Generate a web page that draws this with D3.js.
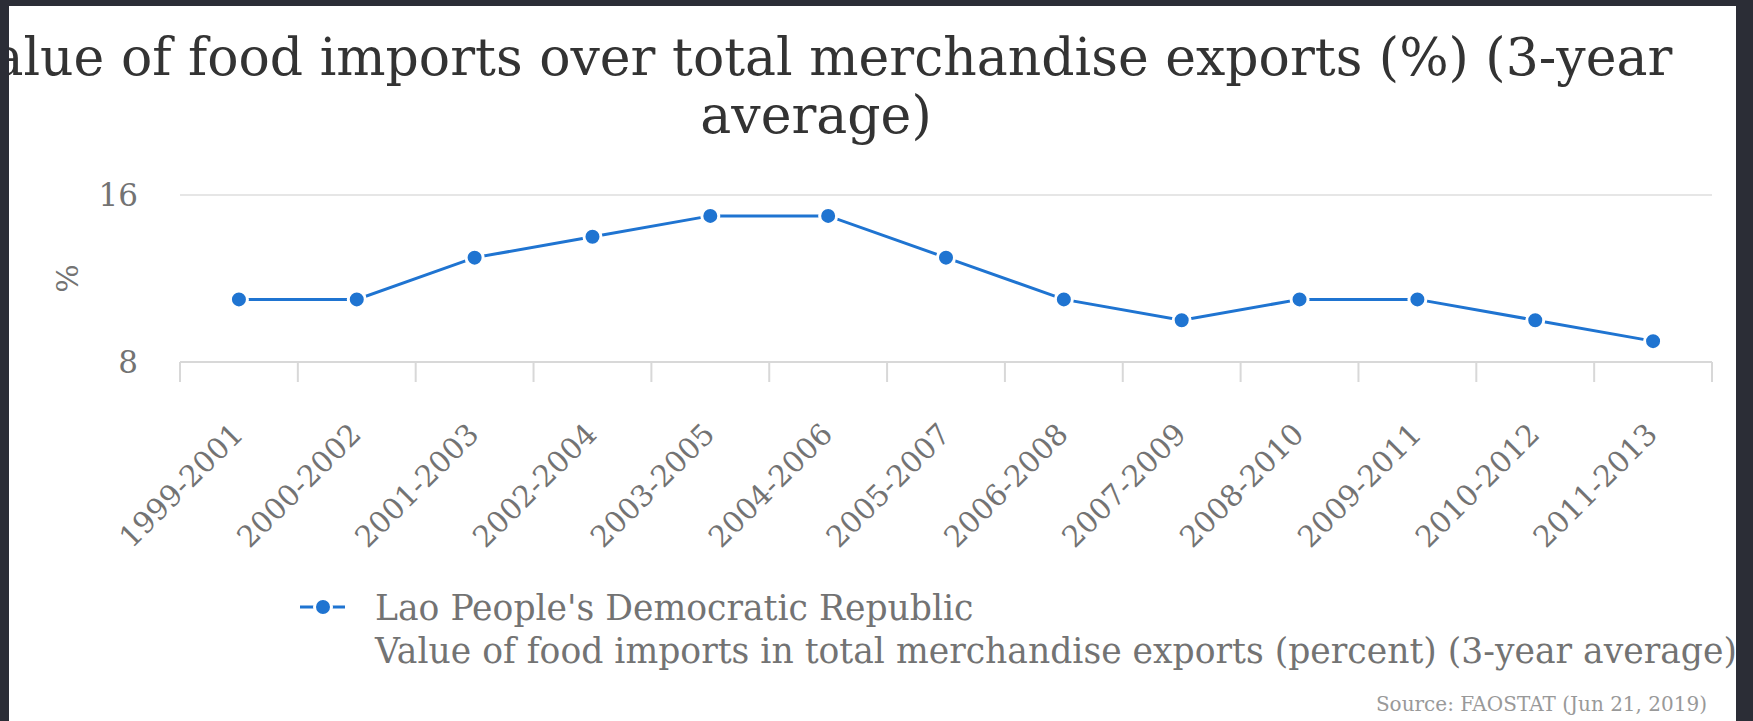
<!DOCTYPE html>
<html>
<head>
<meta charset="utf-8">
<script src="https://cdn.jsdelivr.net/npm/d3@7"></script>
<style>
  html, body { margin: 0; padding: 0; background: #2b2d36; }
  svg { display: block; }
</style>
</head>
<body>
<svg id="chart" width="1753" height="721"></svg>
<script>
// chart data
const periods = ["1999-2001", "2000-2002", "2001-2003", "2002-2004", "2003-2005", "2004-2006",
  "2005-2007", "2006-2008", "2007-2009", "2008-2010", "2009-2011", "2010-2012", "2011-2013"];
const values = [11, 11, 13, 14, 15, 15, 13, 11, 10, 11, 11, 10, 9];
const yTicks = [8, 16];
const titleLines = ["Value of food imports over total merchandise exports (%) (3-year", "average)"];
const legendLines = ["Lao People's Democratic Republic",
  "Value of food imports in total merchandise exports (percent) (3-year average)"];
const sourceText = "Source: FAOSTAT (Jun 21, 2019)";

const font = "'DejaVu Serif', serif";
const blue = "#1f74d1";
const gray = "#737373";

// layout
const panel = { x: 9, y: 6, w: 1727, h: 715 };
const plot = { left: 180, right: 1712, top: 195, bottom: 362 };

const svg = d3.select("#chart");

svg.append("clipPath").attr("id", "panelClip")
  .append("rect")
  .attr("x", panel.x).attr("y", panel.y)
  .attr("width", panel.w).attr("height", panel.h);

svg.append("rect")
  .attr("x", panel.x).attr("y", panel.y)
  .attr("width", panel.w).attr("height", panel.h)
  .attr("fill", "#fff");

const g = svg.append("g").attr("clip-path", "url(#panelClip)");

// title
g.append("text")
  .attr("text-anchor", "middle")
  .attr("fill", "#333")
  .style("font-family", font)
  .style("font-size", "52px")
  .selectAll("tspan")
  .data(titleLines)
  .join("tspan")
  .attr("x", 816)
  .attr("y", (d, i) => 75 + i * 58)
  .text(d => d);

// scales
const x = d3.scaleBand().domain(periods).range([plot.left, plot.right]);
const y = d3.scaleLinear().domain([8, 16]).range([plot.bottom, plot.top]);

// grid line at top value
g.selectAll(".grid")
  .data(yTicks.filter(t => t !== 8))
  .join("line")
  .attr("x1", plot.left).attr("x2", plot.right)
  .attr("y1", d => y(d)).attr("y2", d => y(d))
  .attr("stroke", "#e6e6e6")
  .attr("stroke-width", 2);

// y tick labels
g.selectAll(".ylab")
  .data(yTicks)
  .join("text")
  .attr("x", 138)
  .attr("y", d => y(d))
  .attr("text-anchor", "end")
  .attr("dominant-baseline", "central")
  .attr("fill", gray)
  .style("font-family", font)
  .style("font-size", "31px")
  .text(d => d);

// y axis title
g.append("text")
  .attr("transform", `translate(67,${(plot.top + plot.bottom) / 2}) rotate(-90)`)
  .attr("text-anchor", "middle")
  .attr("dominant-baseline", "central")
  .attr("fill", gray)
  .style("font-family", font)
  .style("font-size", "30px")
  .text("%");

// x axis line and ticks
g.append("line")
  .attr("x1", plot.left).attr("x2", plot.right)
  .attr("y1", plot.bottom).attr("y2", plot.bottom)
  .attr("stroke", "#d8d8d8")
  .attr("stroke-width", 2);

const tickPos = periods.map(p => x(p)).concat([plot.right]);
g.selectAll(".xtick")
  .data(tickPos)
  .join("line")
  .attr("x1", d => d).attr("x2", d => d)
  .attr("y1", plot.bottom).attr("y2", plot.bottom + 20)
  .attr("stroke", "#d8d8d8")
  .attr("stroke-width", 2);

// x labels
g.selectAll(".xlab")
  .data(periods)
  .join("text")
  .attr("transform", d => `translate(${x(d) + x.bandwidth() / 2 + 6},${plot.bottom + 74}) rotate(-45)`)
  .attr("text-anchor", "end")
  .attr("fill", gray)
  .style("font-family", font)
  .style("font-size", "29.5px")
  .text(d => d);

// series line
const cx = (d, i) => x(periods[i]) + x.bandwidth() / 2;
const line = d3.line().x((d, i) => cx(d, i)).y(d => y(d));
g.append("path")
  .datum(values)
  .attr("fill", "none")
  .attr("stroke", blue)
  .attr("stroke-width", 3)
  .attr("d", line);

g.selectAll(".pt")
  .data(values)
  .join("circle")
  .attr("cx", (d, i) => cx(d, i))
  .attr("cy", d => y(d))
  .attr("r", 8.5)
  .attr("fill", blue)
  .attr("stroke", "#fff")
  .attr("stroke-width", 3);

// legend
const lgY = 607;
g.append("line")
  .attr("x1", 300).attr("x2", 345)
  .attr("y1", lgY).attr("y2", lgY)
  .attr("stroke", blue)
  .attr("stroke-width", 3);
g.append("circle")
  .attr("cx", 323).attr("cy", lgY).attr("r", 8.5)
  .attr("fill", blue)
  .attr("stroke", "#fff")
  .attr("stroke-width", 3);

g.append("text")
  .attr("fill", gray)
  .style("font-family", font)
  .style("font-size", "34.6px")
  .selectAll("tspan")
  .data(legendLines)
  .join("tspan")
  .attr("x", 375)
  .attr("y", (d, i) => 620 + i * 43)
  .text(d => d);

// source credit
g.append("text")
  .attr("x", 1707)
  .attr("y", 711)
  .attr("text-anchor", "end")
  .attr("fill", "#999")
  .style("font-family", font)
  .style("font-size", "20px")
  .text(sourceText);
</script>
</body>
</html>
